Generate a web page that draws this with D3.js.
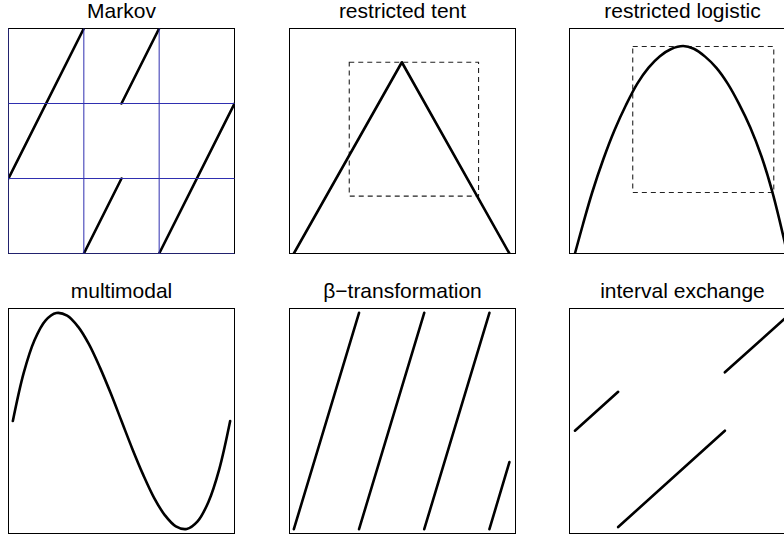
<!DOCTYPE html>
<html>
<head>
<meta charset="utf-8">
<script src="https://cdn.jsdelivr.net/npm/d3@7"></script>
<style>
html, body { margin: 0; padding: 0; background: #fff; }
svg { display: block; }
</style>
</head>
<body>
<svg id="chart" width="784" height="540"></svg>
<script>
// ---- Panel titles ----
const titles = ["Markov", "restricted tent", "restricted logistic",
                "multimodal", "\u03b2\u2212transformation", "interval exchange"];

// ---- Markov: partition lines and linear branches ----
const markovPartition = [0, 1/3, 2/3];
const markovSegments = [
  [[0, 1/3], [1/3, 1]],
  [[1/3, 0], [1/2, 1/3]],
  [[1/2, 2/3], [2/3, 1]],
  [[2/3, 0], [1, 2/3]]
];

// ---- Restricted tent ----
const tentX = [0, 0.497, 0.992];
const tentY = [0, 0.85, 0];
const tentBox = [0.255, 0.85];

// ---- Restricted logistic ----
const logisticX = [0.005, 0.042, 0.084, 0.136, 0.188, 0.24, 0.292, 0.344, 0.396, 0.448, 0.503,
                   0.552, 0.604, 0.656, 0.708, 0.76, 0.812, 0.864, 0.914, 0.968, 0.995];
const logisticY = [0, 0.13, 0.27, 0.42, 0.55, 0.66, 0.755, 0.826, 0.877, 0.909, 0.922,
                   0.91, 0.875, 0.825, 0.755, 0.665, 0.56, 0.43, 0.272, 0.06, -0.06];
const logisticBox = [0.271, 0.92];

// ---- Multimodal ----
const multiX = [0, 0.05, 0.1, 0.15, 0.2, 0.25, 0.3, 0.35, 0.4, 0.45, 0.5,
                0.55, 0.6, 0.65, 0.7, 0.75, 0.8, 0.85, 0.9, 0.95, 1];
const multiY = [0.5, 0.722, 0.874, 0.964, 0.999, 0.987, 0.936, 0.855, 0.749, 0.629, 0.5,
                0.371, 0.251, 0.145, 0.064, 0.013, 0.001, 0.036, 0.126, 0.278, 0.5];

// ---- beta-transformation branches ----
const betaSegments = [
  [[0, 0], [0.30, 1]],
  [[0.30, 0], [0.60, 1]],
  [[0.60, 0], [0.90, 1]],
  [[0.90, 0], [0.992, 0.31]]
];

// ---- Interval exchange branches ----
const iexSegments = [
  [[0.005, 0.455], [0.204, 0.635]],
  [[0.204, 0.01], [0.695, 0.455]],
  [[0.695, 0.725], [1.0, 1.0]]
];

// ---- Layout ----
const colLeft = [8.5, 289.5, 569.5];
const rowTop = [28.5, 308.5];
const boxW = 226, boxH = 225;

const svg = d3.select("#chart");
const defs = svg.append("defs");

const panelDomains = [
  {x: [0, 1], y: [0, 1]},
  {x: [-0.02, 1.02], y: [0, 1]},
  {x: [-0.02, 1.02], y: [0, 1]},
  {x: [-0.02, 1.02], y: [-0.02, 1.02]},
  {x: [-0.02, 1.02], y: [-0.02, 1.02]},
  {x: [-0.02, 1.02], y: [-0.02, 1.02]}
];

function panel(i) {
  const r = Math.floor(i / 3), c = i % 3;
  const x0 = colLeft[c], y0 = rowTop[r];
  const g = svg.append("g").attr("transform", `translate(${x0},${y0})`);
  const x = d3.scaleLinear().domain(panelDomains[i].x).range([0, boxW]);
  const y = d3.scaleLinear().domain(panelDomains[i].y).range([boxH, 0]);
  defs.append("clipPath").attr("id", "clip" + i)
    .append("rect").attr("x", 0).attr("y", 0).attr("width", boxW).attr("height", boxH);
  g.append("text")
    .attr("x", boxW / 2).attr("y", -10.5)
    .attr("text-anchor", "middle")
    .attr("font-family", "Liberation Sans, Arial, sans-serif")
    .attr("font-size", 21)
    .attr("fill", "#000")
    .text(titles[i]);
  const plot = g.append("g").attr("clip-path", `url(#clip${i})`);
  return {g, plot, x, y};
}

function segs(p, data) {
  p.plot.selectAll(null).data(data).enter().append("line")
    .attr("x1", d => p.x(d[0][0])).attr("y1", d => p.y(d[0][1]))
    .attr("x2", d => p.x(d[1][0])).attr("y2", d => p.y(d[1][1]))
    .attr("stroke", "#000").attr("stroke-width", 2.6).attr("stroke-linecap", "round");
}

function box(p) {
  p.g.append("rect").attr("x", 0).attr("y", 0).attr("width", boxW).attr("height", boxH)
    .attr("fill", "none").attr("stroke", "#000").attr("stroke-width", 1);
}

function dashedBox(p, lo, hi) {
  p.plot.append("rect")
    .attr("x", p.x(lo)).attr("y", p.y(hi))
    .attr("width", p.x(hi) - p.x(lo)).attr("height", p.y(lo) - p.y(hi))
    .attr("fill", "none").attr("stroke", "#222").attr("stroke-width", 1.1)
    .attr("stroke-dasharray", "5,4");
}

function curve(p, xs, ys, cv) {
  const pts = xs.map((v, k) => [v, ys[k]]);
  p.plot.append("path").datum(pts)
    .attr("d", d3.line().x(d => p.x(d[0])).y(d => p.y(d[1])).curve(cv))
    .attr("fill", "none").attr("stroke", "#000").attr("stroke-width", 2.6)
    .attr("stroke-linejoin", "round").attr("stroke-linecap", "round");
}

// Markov
{
  const p = panel(0);
  box(p);
  markovPartition.forEach(v => {
    const col = v === 0 ? "#22226e" : "#2f2fb0";
    p.g.append("line").attr("x1", p.x(v)).attr("x2", p.x(v)).attr("y1", p.y(0)).attr("y2", p.y(1))
      .attr("stroke", col).attr("stroke-width", 1);
    p.g.append("line").attr("y1", p.y(v)).attr("y2", p.y(v)).attr("x1", p.x(0)).attr("x2", p.x(1))
      .attr("stroke", col).attr("stroke-width", 1);
  });
  segs(p, markovSegments);
}
// Tent
{
  const p = panel(1);
  box(p);
  dashedBox(p, tentBox[0], tentBox[1]);
  curve(p, tentX, tentY, d3.curveLinear);
}
// Logistic
{
  const p = panel(2);
  box(p);
  dashedBox(p, logisticBox[0], logisticBox[1]);
  curve(p, logisticX, logisticY, d3.curveCatmullRom);
}
// Multimodal
{
  const p = panel(3);
  box(p);
  curve(p, multiX, multiY, d3.curveCatmullRom);
}
// Beta
{
  const p = panel(4);
  box(p);
  segs(p, betaSegments);
}
// Interval exchange
{
  const p = panel(5);
  box(p);
  segs(p, iexSegments);
}
</script>
</body>
</html>
